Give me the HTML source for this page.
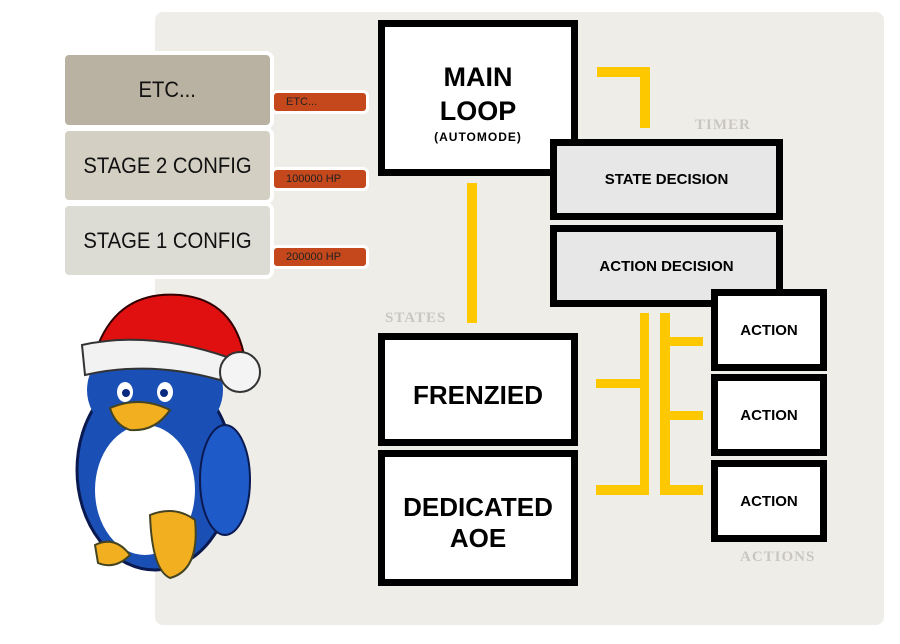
<!DOCTYPE html>
<html><head><style>
body{margin:0;width:900px;height:644px;background:#fff;position:relative;overflow:hidden;font-family:"Liberation Sans",sans-serif}
.a{position:absolute;box-sizing:border-box}
.panel{left:155px;top:12px;width:729px;height:613px;background:#efede8;border-radius:8px}
.bx{background:#fff;border:7px solid #000;display:flex;align-items:center;justify-content:center;text-align:center;font-weight:bold;color:#000}
.g{background:#e7e7e7}
.y{background:#fdc800}
.cfg{border:4px solid #fff;border-radius:8px;display:flex;align-items:center;justify-content:center;font-size:22px;color:#111}
.cfg span{display:inline-block;transform:scaleX(0.92)}
.tag{background:#c4481c;border:3px solid #fff;border-radius:6px;font-size:11px;color:#222;display:flex;align-items:center;padding-left:12px}
.lbl{font-family:"Liberation Serif",serif;font-weight:bold;color:#c9c7c0;font-size:15px;letter-spacing:1px}
</style></head><body>
<div class="a panel"></div>
<div class="a cfg" style="left:61px;top:51px;width:213px;height:78px;background:#b9b2a2"><span>ETC...</span></div>
<div class="a cfg" style="left:61px;top:127px;width:213px;height:77px;background:#d3cfc3"><span>STAGE 2 CONFIG</span></div>
<div class="a cfg" style="left:61px;top:202px;width:213px;height:77px;background:#dcdbd4"><span>STAGE 1 CONFIG</span></div>
<div class="a tag" style="left:271px;top:90px;width:98px;height:24px">ETC...</div>
<div class="a tag" style="left:271px;top:167px;width:98px;height:24px">100000 HP</div>
<div class="a tag" style="left:271px;top:245px;width:98px;height:24px">200000 HP</div>

<div class="a y" style="left:467px;top:183px;width:10px;height:140px"></div>
<div class="a y" style="left:597px;top:67px;width:53px;height:10px"></div>
<div class="a y" style="left:640px;top:67px;width:10px;height:61px"></div>
<div class="a y" style="left:640px;top:313px;width:9px;height:182px"></div>
<div class="a y" style="left:596px;top:379px;width:48px;height:9px"></div>
<div class="a y" style="left:596px;top:485px;width:53px;height:10px"></div>
<div class="a y" style="left:660px;top:313px;width:10px;height:182px"></div>
<div class="a y" style="left:660px;top:337px;width:43px;height:9px"></div>
<div class="a y" style="left:660px;top:411px;width:43px;height:9px"></div>
<div class="a y" style="left:660px;top:485px;width:43px;height:10px"></div>

<div class="a bx" style="left:378px;top:20px;width:200px;height:156px;flex-direction:column;font-size:27px;line-height:34px;padding-top:10px">MAIN<br>LOOP<span style="font-size:12px;line-height:18px;letter-spacing:1px">(AUTOMODE)</span></div>
<div class="a lbl" style="left:695px;top:117px">TIMER</div>
<div class="a bx g" style="left:550px;top:139px;width:233px;height:81px;font-size:15px">STATE DECISION</div>
<div class="a bx g" style="left:550px;top:225px;width:233px;height:82px;font-size:15px">ACTION DECISION</div>
<div class="a lbl" style="left:385px;top:310px">STATES</div>
<div class="a bx" style="left:378px;top:333px;width:200px;height:113px;font-size:26px;padding-top:12px">FRENZIED</div>
<div class="a bx" style="left:378px;top:450px;width:200px;height:136px;font-size:26px;line-height:31px;padding-top:10px">DEDICATED<br>AOE</div>
<div class="a bx" style="left:711px;top:289px;width:116px;height:82px;font-size:15px">ACTION</div>
<div class="a bx" style="left:711px;top:374px;width:116px;height:82px;font-size:15px">ACTION</div>
<div class="a bx" style="left:711px;top:460px;width:116px;height:82px;font-size:15px">ACTION</div>
<div class="a lbl" style="left:740px;top:549px">ACTIONS</div>

<svg class="a" style="left:60px;top:280px" width="220" height="310" viewBox="0 0 220 310">
<ellipse cx="95" cy="190" rx="78" ry="100" fill="#1a4fb5" stroke="#0a1a50" stroke-width="3"/>
<ellipse cx="95" cy="110" rx="68" ry="55" fill="#1a4fb5"/>
<ellipse cx="85" cy="210" rx="50" ry="65" fill="#fff"/>
<ellipse cx="165" cy="200" rx="25" ry="55" fill="#1e5ac8" stroke="#0a1a50" stroke-width="2"/>
<path d="M38 65 Q60 10 120 15 Q175 20 185 80 L170 85 Q120 60 40 75Z" fill="#e01010" stroke="#300" stroke-width="2"/>
<path d="M22 65 Q90 50 170 78 L160 100 Q90 80 25 95Z" fill="#f2f2f2" stroke="#333" stroke-width="2"/>
<circle cx="180" cy="92" r="20" fill="#f4f4f4" stroke="#333" stroke-width="2"/>
<ellipse cx="65" cy="112" rx="8" ry="10" fill="#fff"/><ellipse cx="105" cy="112" rx="8" ry="10" fill="#fff"/>
<circle cx="66" cy="113" r="4" fill="#0a2a80"/><circle cx="104" cy="113" r="4" fill="#0a2a80"/>
<path d="M50 128 Q80 115 110 130 Q95 152 70 150 Q55 145 50 128Z" fill="#f2b020" stroke="#442" stroke-width="2"/>
<path d="M90 235 Q115 225 135 240 Q140 290 110 298 Q92 290 90 235Z" fill="#f2b020" stroke="#442" stroke-width="2"/>
<path d="M35 265 Q55 255 70 275 Q55 290 38 283Z" fill="#f2b020" stroke="#442" stroke-width="2"/>
</svg>
</body></html>
